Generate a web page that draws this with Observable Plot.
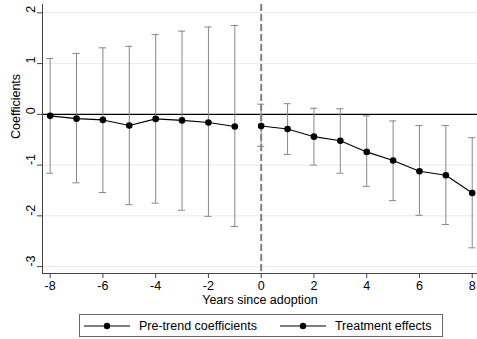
<!DOCTYPE html>
<html>
<head>
<meta charset="utf-8">
<script src="https://cdn.jsdelivr.net/npm/d3@7"></script>
<script src="https://cdn.jsdelivr.net/npm/@observablehq/plot@0.6"></script>
<style>
  body { margin: 0; background: #fff; font-family: "Liberation Sans", Arial, sans-serif; }
  #legend {
    box-sizing: border-box; width: 364px; height: 23px; margin-left: 79px;
    border: 1px solid #666; display: flex; align-items: center;
    font-size: 12.5px; color: #000; padding-left: 4px;
  }
  #legend .item { display: flex; align-items: center; }
  #legend svg { display: block; margin-right: 9px; }
</style>
</head>
<body>
<div id="chart"></div>
<div id="legend"></div>
<script>
const preYears = [-8, -7, -6, -5, -4, -3, -2, -1];
const preCoef  = [-0.03, -0.085, -0.11, -0.22, -0.09, -0.12, -0.16, -0.24];
const preLo    = [-1.16, -1.35, -1.54, -1.78, -1.75, -1.89, -2.01, -2.21];
const preHi    = [1.10, 1.20, 1.31, 1.34, 1.57, 1.64, 1.72, 1.75];

const postYears = [0, 1, 2, 3, 4, 5, 6, 7, 8];
const postCoef  = [-0.23, -0.29, -0.44, -0.52, -0.74, -0.91, -1.12, -1.20, -1.55];
const postLo    = [-0.63, -0.79, -1.00, -1.16, -1.42, -1.70, -1.99, -2.17, -2.63];
const postHi    = [0.20, 0.21, 0.12, 0.11, -0.03, -0.13, -0.22, -0.22, -0.46];

const xTicks = [-8, -6, -4, -2, 0, 2, 4, 6, 8];
const yTicks = [-3, -2, -1, 0, 1, 2];
const gridVals = [-3, -2, -1, 1, 2];
const seriesNames = ["Pre-trend coefficients", "Treatment effects"];
const xTitle = "Years since adoption";
const yTitle = "Coefficients";

const xDomain = [-8.29, 8.2];
const yDomain = [-3.136, 2.164];

const pre = preYears.map((x, i) => ({x, y: preCoef[i], lo: preLo[i], hi: preHi[i]}));
const post = postYears.map((x, i) => ({x, y: postCoef[i], lo: postLo[i], hi: postHi[i]}));
const all = pre.concat(post);
const capHalf = 0.135;
const barColor = "#888";

const chart = Plot.plot({
  width: 477,
  height: 314,
  marginLeft: 42,
  marginRight: 0,
  marginTop: 4,
  marginBottom: 41,
  style: {fontFamily: "'Liberation Sans', Arial, sans-serif", fontSize: "12.5px", color: "#000", background: "#fff"},
  x: {domain: xDomain},
  y: {domain: yDomain},
  marks: [
    Plot.ruleY(gridVals, {stroke: "#e4eded", strokeWidth: 1}),
    Plot.ruleY([0], {stroke: "#000", strokeWidth: 1.2}),
    Plot.ruleX([0], {stroke: "#808080", strokeWidth: 2, strokeDasharray: "7,3"}),
    Plot.ruleX(all, {x: "x", y1: "lo", y2: "hi", stroke: barColor, strokeWidth: 1}),
    Plot.ruleY(all, {y: "lo", x1: d => d.x - capHalf, x2: d => d.x + capHalf, stroke: barColor, strokeWidth: 1}),
    Plot.ruleY(all, {y: "hi", x1: d => d.x - capHalf, x2: d => d.x + capHalf, stroke: barColor, strokeWidth: 1}),
    Plot.line(pre, {x: "x", y: "y", stroke: "#000", strokeWidth: 1.1}),
    Plot.line(post, {x: "x", y: "y", stroke: "#000", strokeWidth: 1.1}),
    Plot.dot(all, {x: "x", y: "y", r: 3.3, fill: "#000", stroke: "none"}),
    Plot.ruleX([xDomain[0]], {stroke: "#444", strokeWidth: 1}),
    Plot.ruleY([yDomain[0]], {stroke: "#444", strokeWidth: 1}),
    Plot.axisX({ticks: xTicks, tickSize: 5, tickPadding: 3, tickFormat: d => String(d), label: null, stroke: "#444", fill: "#000"}),
    Plot.axisY({ticks: yTicks, tickSize: 5, tickFormat: () => "", label: null, stroke: "#444"}),
    Plot.text(yTicks, {y: d => d, text: d => String(d), frameAnchor: "left", dx: -12, rotate: -90, fill: "#000", fontSize: 12.5}),
    Plot.text([yTitle], {frameAnchor: "left", dx: -27, rotate: -90, fill: "#000", fontSize: 12.5}),
    Plot.text([xTitle], {frameAnchor: "bottom", dy: 30, fill: "#000", fontSize: 12.5})
  ]
});
document.getElementById("chart").appendChild(chart);

// legend
const legend = d3.select("#legend");
seriesNames.forEach((name, i) => {
  const item = legend.append("div").attr("class", "item").style("margin-right", i === 0 ? "23px" : "0");
  const sw = item.append("svg").attr("width", 46).attr("height", 12);
  sw.append("line").attr("x1", 0).attr("x2", 46).attr("y1", 6).attr("y2", 6).attr("stroke", "#000").attr("stroke-width", 1.1);
  sw.append("circle").attr("cx", 23).attr("cy", 6).attr("r", 3.2).attr("fill", "#000");
  item.append("span").text(name);
});
</script>
</body>
</html>
